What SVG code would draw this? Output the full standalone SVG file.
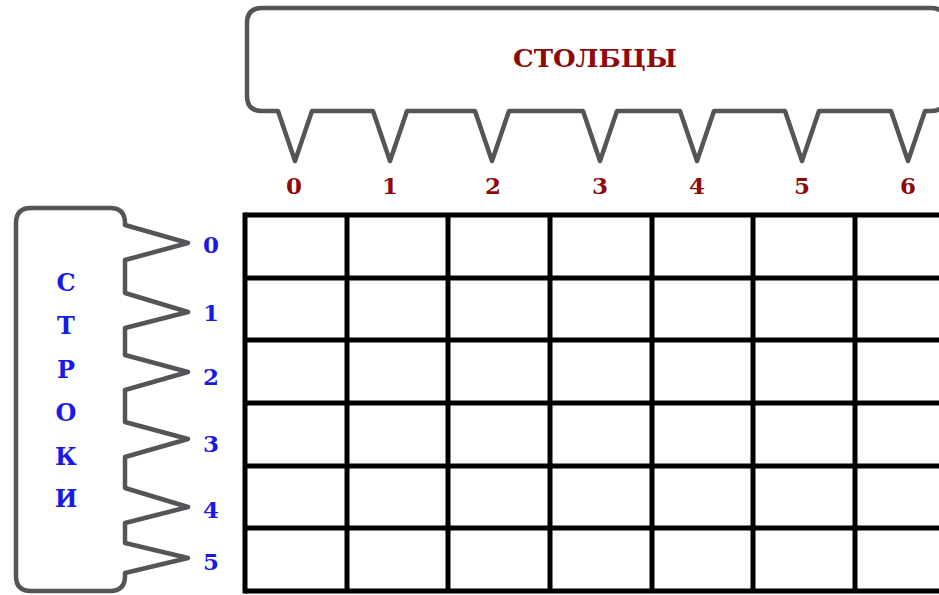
<svg xmlns="http://www.w3.org/2000/svg" width="939" height="595" viewBox="0 0 939 595">
<style>
.br{fill:none;stroke:#555559;stroke-width:4.5;stroke-linejoin:round;stroke-linecap:round}
.gl{stroke:#000;stroke-width:5;fill:none}
.red{fill:#8e0a0a;font-family:"DejaVu Serif","Liberation Serif",serif;font-weight:bold;text-anchor:middle}
.blue{fill:#1a1ae6;font-family:"DejaVu Serif","Liberation Serif",serif;font-weight:bold;text-anchor:middle}
</style>
<rect width="939" height="595" fill="#fff"/>
<g id="columns-bracket">
<path class="br" d="M247,23 Q247,8 262,8 L931,8 Q946,8 946,23 L946,96 Q946,111 931,111 L925,111 L908,161 L891,111 L819,111 L802,161 L785,111 L714,111 L697,161 L680,111 L617,111 L600,161 L583,111 L509,111 L492,161 L475,111 L407,111 L390,161 L373,111 L312,111 L295,161 L278,111 L262,111 Q247,111 247,96 Z"/>
<text class="red" x="595" y="67" font-size="25" textLength="164" lengthAdjust="spacingAndGlyphs">СТОЛБЦЫ</text>
</g>
<g id="column-numbers" class="red" font-size="23">
<text x="294" y="194">0</text>
<text x="390" y="194">1</text>
<text x="493" y="194">2</text>
<text x="600" y="194">3</text>
<text x="697" y="194">4</text>
<text x="802" y="194">5</text>
<text x="908" y="194">6</text>
</g>
<g id="rows-bracket">
<path class="br" d="M31,208 L110,208 Q125,208 125,223 L125,225 L188,243 L125,260 L125,293 L188,312 L125,328 L125,355 L188,372 L125,390 L125,422 L188,439 L125,457 L125,488 L188,507 L125,523 L125,543 L188,558 L125,573 L125,576 Q125,591 110,591 L31,591 Q16,591 16,576 L16,223 Q16,208 31,208 Z"/>
<g class="blue" font-size="24">
<text x="66" y="291">С</text>
<text x="66" y="334">Т</text>
<text x="66" y="378">Р</text>
<text x="66" y="421">О</text>
<text x="66" y="465">К</text>
<text x="66" y="507">И</text>
</g>
</g>
<g id="row-numbers" class="blue" font-size="23">
<text x="211" y="253">0</text>
<text x="211" y="321">1</text>
<text x="211" y="385">2</text>
<text x="211" y="452">3</text>
<text x="211" y="518">4</text>
<text x="211" y="570">5</text>
</g>
<g id="grid" class="gl">
<path d="M245,215 H945 M245,278 H945 M245,340 H945 M245,403 H945 M245,466 H945 M245,528 H945 M245,591 H945"/>
<path d="M245,212.5 V593.5 M347,215 V591 M448,215 V591 M550,215 V591 M652,215 V591 M753,215 V591 M855,215 V591"/>
</g>
</svg>
